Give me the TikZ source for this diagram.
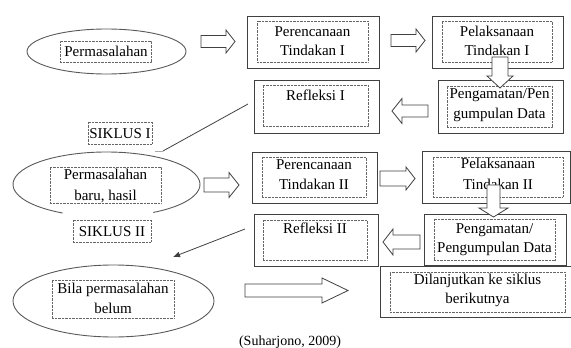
\documentclass[tikz,border=0pt]{standalone}
\usepackage{fontspec}
\setmainfont{Liberation Serif}
\usetikzlibrary{shapes.geometric,arrows.meta}
\newcommand\rbox[6]{%
  \pgfmathsetmacro\bw{#5-#3}\pgfmathsetmacro\bh{#6-#4}%
  \node[#2, minimum width=\bw pt, minimum height=\bh pt] (#1) at ({(#3+#5)/2},{(#4+#6)/2}) {};}
% right block arrow: x1 x2 yc shaft-half head-half head-length
\newcommand\blkright[6]{%
  \draw[blockarrow] (#1,#3-#4) -- (#2-#6,#3-#4) -- (#2-#6,#3-#5) -- (#2,#3) -- (#2-#6,#3+#5) -- (#2-#6,#3+#4) -- (#1,#3+#4) -- cycle;}
% left block arrow: xtip xend yc shaft-half head-half head-length
\newcommand\blkleft[6]{%
  \draw[blockarrow] (#2,#3-#4) -- (#1+#6,#3-#4) -- (#1+#6,#3-#5) -- (#1,#3) -- (#1+#6,#3+#5) -- (#1+#6,#3+#4) -- (#2,#3+#4) -- cycle;}
% down block arrow: xc ytop ytip shaft-half head-half head-length
\newcommand\blkdown[6]{%
  \draw[blockarrow] (#1-#4,#2) -- (#1-#4,#3-#6) -- (#1-#5,#3-#6) -- (#1,#3) -- (#1+#5,#3-#6) -- (#1+#4,#3-#6) -- (#1+#4,#2) -- cycle;}
\begin{document}
\begin{tikzpicture}[x=1pt,y=-1pt,
  outer/.style={draw=black!75, line width=0.9pt, fill=white, inner sep=0pt},
  inner/.style={draw=black!60, line width=0.6pt, dash pattern=on 0.7pt off 0.7pt, inner sep=0pt},
  ell/.style={draw=black!65, line width=0.9pt, ellipse, inner sep=0pt},
  txt/.style={font=\fontsize{15}{19}\selectfont, inner sep=0pt, anchor=base},
  captext/.style={font=\fontsize{14}{17}\selectfont, inner sep=0pt, anchor=base},
  blockarrow/.style={draw=black!75, line width=0.8pt, fill=white, line join=miter},
  conn/.style={draw=black!75, line width=0.8pt}]
\useasboundingbox (0,0) rectangle (571,348);

% ---- row 1
\node[ell, minimum width=159pt, minimum height=45pt] (e1) at (106.5,51.5) {};
\rbox{e1in}{inner}{60}{41}{151}{62}
\node[txt] (t1) at (106,56.5) {Permasalahan};

\rbox{p1}{outer}{247}{16}{379}{68}
\rbox{p1in}{inner}{257}{21}{368}{62}
\node[txt] (p1a) at (312.5,36) {Perencanaan};
\node[txt] (p1b) at (312.5,56) {Tindakan I};

\rbox{l1}{outer}{432}{16}{563}{68}
\rbox{l1in}{inner}{442}{21}{552}{62}
\node[txt] (l1a) at (497,36) {Pelaksanaan};
\node[txt] (l1b) at (497,56) {Tindakan I};

\blkright{201}{235}{41.5}{6}{11.5}{9}
\blkright{391}{425}{40.5}{6}{11.5}{9}

\rbox{r1}{outer}{254}{80}{379}{133}
\rbox{r1in}{inner}{263}{85}{368}{126}
\node[txt] (r1a) at (315.5,100) {Refleksi I};

\rbox{g1}{outer}{438}{80}{563}{133}
\rbox{g1in}{inner}{447}{86}{552}{127}
\node[txt] (g1a) at (499.5,98) {Pengamatan/Pen};
\node[txt] (g1b) at (499.5,118) {gumpulan Data};

\blkdown{500}{57}{88}{8}{13}{12}
\blkleft{392}{428}{111}{6}{12.5}{10}

\rbox{s1}{inner}{88}{122}{152}{144}
\node[txt] (s1t) at (120,138) {SIKLUS I};

\coordinate (c1a) at (248,104);
\coordinate (c1b) at (163,151);
\draw[conn] (c1a) -- (c1b);
\coordinate (c1c) at (155,151);
\draw[draw=black!35, line width=0.9pt] (c1c) -- (c1b);

% ---- row 2
\coordinate (e2c) at (106.5,184.4);
\draw[draw=black!65, line width=0.9pt] (e2c) ++(-60:93.5pt and 32.4pt)
  arc[start angle=-60, end angle=242, x radius=93.5pt, y radius=32.4pt];
\rbox{e2in}{inner}{50}{167}{161}{203}
\node[txt] (t2a) at (105.5,179) {Permasalahan};
\node[txt] (t2b) at (105.5,200) {baru, hasil};

\rbox{s2}{inner}{73}{220}{151}{242}
\node[txt] (s2t) at (112,236) {SIKLUS II};

\blkright{204}{239}{185}{7}{12.5}{10}

\rbox{p2}{outer}{252}{152}{377}{203}
\rbox{p2in}{inner}{262}{157}{366}{197}
\node[txt] (p2a) at (314,169) {Perencanaan};
\node[txt] (p2b) at (314,189) {Tindakan II};

\blkright{380}{415}{178.5}{7.5}{11.5}{9}

\rbox{l2}{outer}{422}{151}{570}{203}
\rbox{l2in}{inner}{433}{157}{563}{197}
\node[txt] (l2a) at (498,168) {Pelaksanaan};
\node[txt] (l2b) at (498,189) {Tindakan II};

\rbox{r2}{outer}{254}{214}{378}{266}
\rbox{r2in}{inner}{263}{220}{367}{260}
\node[txt] (r2a) at (315,233) {Refleksi II};

\rbox{g2}{outer}{424}{214}{566}{265}
\rbox{g2in}{inner}{434}{219}{555}{260}
\node[txt] (g2a) at (494.5,233) {Pengamatan/};
\node[txt] (g2b) at (494.5,252) {Pengumpulan Data};

\blkdown{493.5}{185}{217}{6.5}{14.5}{9}
\blkleft{383}{420}{242}{7}{13}{10}

\rbox{d1}{outer}{380}{266}{572}{317}
\rbox{d1in}{inner}{390}{272}{565}{312}
\node[txt] (d1a) at (477.5,284) {Dilanjutkan ke siklus};
\node[txt] (d1b) at (477.5,303) {berikutnya};

\coordinate (c2a) at (245,229);
\coordinate (c2b) at (173,257);
\draw[conn, -{Latex[length=7pt,width=6pt]}] (c2a) -- (c2b);

% ---- row 3
\node[ell, minimum width=201pt, minimum height=72pt] (e3) at (113.5,301) {};
\rbox{e3in}{inner}{52}{280}{174}{318}
\node[txt] (t3a) at (113,293) {Bila permasalahan};
\node[txt] (t3b) at (113,313) {belum};

\blkright{245}{348}{290.5}{6.5}{12.5}{26}

\node[captext] (src) at (290,345) {(Suharjono, 2009)};
\end{tikzpicture}
\end{document}
